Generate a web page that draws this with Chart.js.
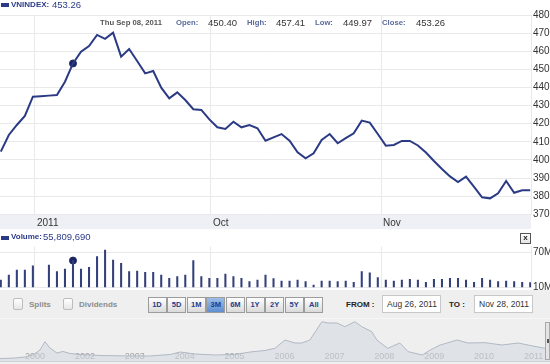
<!DOCTYPE html>
<html>
<head>
<meta charset="utf-8">
<script src="https://cdn.jsdelivr.net/npm/chart.js@4.4.0/dist/chart.umd.min.js"></script>
<style>
  body { margin:0; width:550px; height:364px; overflow:hidden; background:#fff; position:relative;
         font-family:'Liberation Sans', Arial, sans-serif; }
  canvas { position:absolute; left:0; }
  .t { position:absolute; white-space:nowrap; line-height:10px; }
  .b { font-weight:bold; }
  .icon { position:absolute; left:1px; width:8px; height:4px; background:#2b3a84; }
  .box { position:absolute; top:298px; width:10px; height:12px; box-sizing:border-box; border:1px solid #bcbcbc;
         border-radius:2px; background:linear-gradient(#ffffff,#e6e6e6); }
  .btn { position:absolute; top:297px; width:19px; height:16px; box-sizing:border-box; border:1px solid #9c9c9c;
         background:linear-gradient(#ffffff,#dadada); color:#23408e; font:bold 7.5px 'Liberation Sans', Arial, sans-serif;
         text-align:center; line-height:14px; }
  .btn.on { background:linear-gradient(#9cbde8,#5f8fd0); color:#1c3a8a; }
  .inp { position:absolute; top:295px; width:59px; height:18px; box-sizing:border-box; border:1px solid #c8c8c8;
         background:#fff; font-size:8.5px; color:#333; line-height:16px; padding-left:4px; }
</style>
</head>
<body>
<div style="position:absolute;left:0;top:290px;width:550px;height:74px;background:#efefef"></div>
<div style="position:absolute;left:0;top:318px;width:550px;height:1px;background:#f7f7f7"></div>
<div style="position:absolute;left:0;top:361px;width:550px;height:1px;background:#c9c9c9"></div>

<canvas id="price" width="550" height="230" style="top:0"></canvas>
<canvas id="volume" width="550" height="52" style="top:240px"></canvas>
<canvas id="nav" width="550" height="46" style="top:318px"></canvas>

<!-- header -->
<div class="icon" style="top:3px"></div>
<span class="t b" style="left:11px;top:0px;font-size:8px;color:#2b3b86">VNINDEX:</span>
<span class="t" style="left:52px;top:0px;font-size:9.5px;color:#2b3b86">453.26</span>

<span class="t b" style="left:100px;top:18px;font-size:7.7px;color:#555">Thu Sep 08, 2011</span>
<span class="t b" style="left:176px;top:18px;font-size:7.7px;color:#5a6a9c">Open:</span>
<span class="t" style="left:208px;top:18px;font-size:9.5px;color:#333">450.40</span>
<span class="t b" style="left:247px;top:18px;font-size:7.7px;color:#5a6a9c">High:</span>
<span class="t" style="left:276px;top:18px;font-size:9.5px;color:#333">457.41</span>
<span class="t b" style="left:315px;top:18px;font-size:7.7px;color:#5a6a9c">Low:</span>
<span class="t" style="left:343px;top:18px;font-size:9.5px;color:#333">449.97</span>
<span class="t b" style="left:382px;top:18px;font-size:7.7px;color:#5a6a9c">Close:</span>
<span class="t" style="left:416px;top:18px;font-size:9.5px;color:#333">453.26</span>

<!-- volume header -->
<div class="icon" style="top:236px"></div>
<span class="t b" style="left:11px;top:232px;font-size:8px;color:#2b3b86">Volume:</span>
<span class="t" style="left:43px;top:232px;font-size:9.5px;color:#2b3b86">55,809,690</span>
<div style="position:absolute;left:520px;top:233px;width:11px;height:11px;box-sizing:border-box;border:1px solid #555;
            background:linear-gradient(#fff,#e4e4e4);font:bold 8px 'Liberation Sans',Arial,sans-serif;text-align:center;line-height:8px;color:#222">x</div>

<!-- toolbar -->
<div class="box" style="left:13px"></div>
<span class="t b" style="left:29px;top:300px;font-size:8px;color:#8c8c8c">Splits</span>
<div class="box" style="left:63px"></div>
<span class="t b" style="left:79px;top:300px;font-size:8px;color:#8c8c8c">Dividends</span>

<div class="btn" style="left:147.5px">1D</div>
<div class="btn" style="left:167.1px">5D</div>
<div class="btn" style="left:186.7px">1M</div>
<div class="btn on" style="left:206.3px">3M</div>
<div class="btn" style="left:225.9px">6M</div>
<div class="btn" style="left:245.5px">1Y</div>
<div class="btn" style="left:265.1px">2Y</div>
<div class="btn" style="left:284.7px">5Y</div>
<div class="btn" style="left:304.3px">All</div>

<span class="t b" style="left:346px;top:300px;font-size:8px;color:#222">FROM :</span>
<div class="inp" style="left:382px">Aug 26, 2011</div>
<span class="t b" style="left:449px;top:300px;font-size:8px;color:#222">TO :</span>
<div class="inp" style="left:474px">Nov 28, 2011</div>

<div style="position:absolute;left:545px;top:322px;width:5px;height:38px;box-sizing:border-box;border:1px solid #a8a8a8;background:#e4e4e4"></div>
<div style="position:absolute;left:547px;top:339px;width:2px;height:4px;background:#555"></div>

<script>
// price (close) per trading day, Aug 26 .. Nov 28 2011
const closes = [404.6, 413.8, 419.3, 424.3, 434.9, 435.2, 435.5, 435.8, 443.2, 453.26,
                459.7, 462.9, 469.0, 466.8, 470.2, 457.0, 461.2, 454.6, 447.8, 449.1,
                439.9, 434.0, 437.3, 433.1, 428.0, 427.6, 422.4, 418.0, 417.1, 421.1,
                418.0, 419.3, 417.5, 410.6, 412.5, 414.3, 410.6, 404.2, 400.9, 403.7,
                411.0, 414.3, 409.2, 412.0, 414.7, 421.7, 420.6, 414.3, 407.9, 408.3,
                410.5, 410.5, 408.0, 404.1, 399.4, 395.0, 390.9, 387.8, 390.8, 385.2,
                379.4, 378.8, 381.6, 388.4, 381.9, 383.3, 383.3];

// volume in millions
const volumes = [22.5, 31, 39.7, 39.7, 47, 0, 48.3, 36.8, 41.4, 55.81,
                 41.4, 44.3, 62.5, 74, 56.8, 51.2, 36.8, 38, 35.7, 35.7,
                 31.1, 25.4, 28.2, 31.1, 55.6, 28.2, 25.4, 25.4, 32.8, 28.2,
                 25.4, 19.6, 22.5, 31.1, 25, 20.8, 20.8, 22.5, 19.6, 14,
                 20.8, 20.8, 19.6, 20.8, 18.6, 36.8, 35, 26.5, 22.5, 20.8,
                 22.5, 23.7, 22.5, 18.6, 23.7, 23.7, 25.4, 25.4, 22.5, 18.6,
                 25.4, 22.5, 19.6, 20.8, 19.6, 18.6, 18];

const markIdx = 9;

const monthTickPos = [4.26, 26.2, 47.4];
const monthTickLabels = ['2011', 'Oct', 'Nov'];
const volTicks = [10, 40, 70, 79.6];
const volTickLabels = ['10M', '40M', '70M', ''];

// navigator: full history
const navYears = [2000.56, 2000.86, 2001.06, 2001.22, 2001.36, 2001.46, 2001.56, 2001.70, 2001.82, 2001.96,
                  2002.16, 2002.56, 2003.16, 2003.56, 2003.97, 2004.17, 2004.47, 2004.87, 2005.27, 2005.57,
                  2005.87, 2006.07, 2006.27, 2006.47, 2006.61, 2006.77, 2007.01, 2007.13, 2007.31, 2007.47,
                  2007.67, 2007.81, 2008.01, 2008.11, 2008.33, 2008.57, 2008.74, 2009.02, 2009.18, 2009.38,
                  2009.72, 2009.94, 2010.28, 2010.62, 2010.94, 2011.24, 2011.48, 2011.6];
const navValues = [100, 116, 145, 203, 348, 589, 406, 261, 305, 247,
                   218, 189, 174, 174, 218, 290, 232, 203, 218, 290,
                   334, 397, 638, 551, 551, 638, 1169, 1131, 1131, 1024,
                   1169, 1024, 879, 638, 397, 551, 299, 203, 348, 493,
                   638, 551, 560, 493, 551, 464, 397, 390];
const navLabelPos = [2001, 2002, 2003, 2004, 2005, 2006, 2007, 2008, 2009, 2010, 2011];
const navLabels = ['2000', '2002', '2003', '2004', '2005', '2006', '2007', '2008', '2009', '2010', '2011'];

const FONT = "'Liberation Sans', Arial, sans-serif";
const gridColor = '#e9e9e9';
const lineColor = '#2b3a84';

// keep chart areas exactly where the layout padding says
function noPadX(ax, h) {
    ax.height = h;
    ax.paddingLeft = 0;
    ax.paddingRight = 0;
}
function noPadY(ax) {
    ax.width = 19;
    ax.paddingTop = 0;
    ax.paddingBottom = 0;
}

const bandPlugin = {
    id: 'band',
    beforeDraw(chart) {
        const a = chart.chartArea;
        const ctx = chart.ctx;
        ctx.save();
        ctx.fillStyle = '#eef0f5';
        ctx.fillRect(0, a.bottom + 0.7, a.right, 14);
        ctx.restore();
    }
};

new Chart(document.getElementById('price'), {
    type: 'line',
    data: {
        datasets: [
            {
                data: closes.map((v, i) => ({ x: i, y: v })),
                borderColor: lineColor,
                borderWidth: 2,
                pointRadius: 0,
                tension: 0
            },
            {
                data: [{ x: markIdx, y: closes[markIdx] }],
                showLine: false,
                pointRadius: 3.5,
                pointBackgroundColor: '#1b2664',
                pointBorderColor: '#1b2664'
            }
        ]
    },
    options: {
        responsive: false,
        animation: false,
        layout: { autoPadding: false, padding: { top: 15, left: 0, right: 0, bottom: 0 } },
        plugins: { legend: { display: false }, tooltip: { enabled: false } },
        scales: {
            x: {
                type: 'linear', min: -0.1, max: 66.1, offset: false,
                afterBuildTicks: ax => { ax.ticks = monthTickPos.map(v => ({ value: v })); },
                afterFit: ax => noPadX(ax, 15.7),
                ticks: {
                    callback: (v, i) => monthTickLabels[i],
                    align: 'start', labelOffset: 2, padding: 3, maxRotation: 0, autoSkip: false,
                    color: '#333', font: { size: 10, family: FONT }
                },
                grid: { color: gridColor, drawTicks: false, offset: false },
                border: { display: false }
            },
            y: {
                position: 'right', min: 370, max: 480,
                afterFit: noPadY,
                ticks: { stepSize: 10, padding: 2, color: '#333', font: { size: 10, family: FONT } },
                grid: { color: gridColor, drawTicks: false },
                border: { color: gridColor }
            }
        }
    },
    plugins: [bandPlugin]
});

new Chart(document.getElementById('volume'), {
    type: 'bar',
    data: {
        datasets: [
            {
                data: volumes.map((v, i) => ({ x: i, y: v })),
                backgroundColor: '#34407a',
                barThickness: 1.4,
                clip: 0
            },
            {
                type: 'line',
                data: [{ x: markIdx, y: volumes[markIdx] }],
                showLine: false,
                pointRadius: 3.5,
                pointBackgroundColor: '#1b2664',
                pointBorderColor: '#1b2664'
            }
        ]
    },
    options: {
        responsive: false,
        animation: false,
        layout: { autoPadding: false, padding: { top: 6.7, left: 0, right: 0, bottom: 4.7 } },
        plugins: { legend: { display: false }, tooltip: { enabled: false } },
        scales: {
            x: {
                type: 'linear', min: -0.1, max: 66.1, offset: false,
                afterBuildTicks: ax => { ax.ticks = monthTickPos.map(v => ({ value: v })); },
                afterFit: ax => noPadX(ax, 0),
                ticks: { display: false },
                grid: { color: gridColor, drawTicks: false, offset: false },
                border: { display: false }
            },
            y: {
                position: 'right', min: 10, max: 79.6,
                afterBuildTicks: ax => { ax.ticks = volTicks.map(v => ({ value: v })); },
                afterFit: noPadY,
                ticks: {
                    callback: (v, i) => volTickLabels[i],
                    padding: 2, color: '#333', font: { size: 10, family: FONT }
                },
                grid: { color: gridColor, drawTicks: false },
                border: { color: gridColor }
            }
        }
    }
});

const navLabelPlugin = {
    id: 'navLabels',
    beforeDatasetsDraw(chart) {
        const ctx = chart.ctx;
        const xs = chart.scales.x;
        ctx.save();
        ctx.fillStyle = '#a2a2a2';
        ctx.font = '9px ' + FONT;
        ctx.textBaseline = 'middle';
        ctx.textAlign = 'left';
        navLabelPos.forEach((p, i) => {
            ctx.fillText(navLabels[i], xs.getPixelForValue(p) + 3, 39);
        });
        ctx.restore();
    }
};

new Chart(document.getElementById('nav'), {
    type: 'line',
    data: {
        datasets: [{
            data: navYears.map((y, i) => ({ x: y, y: navValues[i] })),
            borderColor: '#b0b8c3',
            backgroundColor: 'rgba(210,217,226,0.55)',
            borderWidth: 1,
            fill: 'origin',
            pointRadius: 0,
            tension: 0
        }]
    },
    options: {
        responsive: false,
        animation: false,
        layout: { autoPadding: false, padding: { top: 0, left: 0, right: 0, bottom: 2 } },
        plugins: { legend: { display: false }, tooltip: { enabled: false } },
        scales: {
            x: { type: 'linear', min: 2000.559, max: 2011.581, display: false },
            y: { min: 0, max: 1276, display: false }
        }
    },
    plugins: [navLabelPlugin]
});
</script>
</body>
</html>
